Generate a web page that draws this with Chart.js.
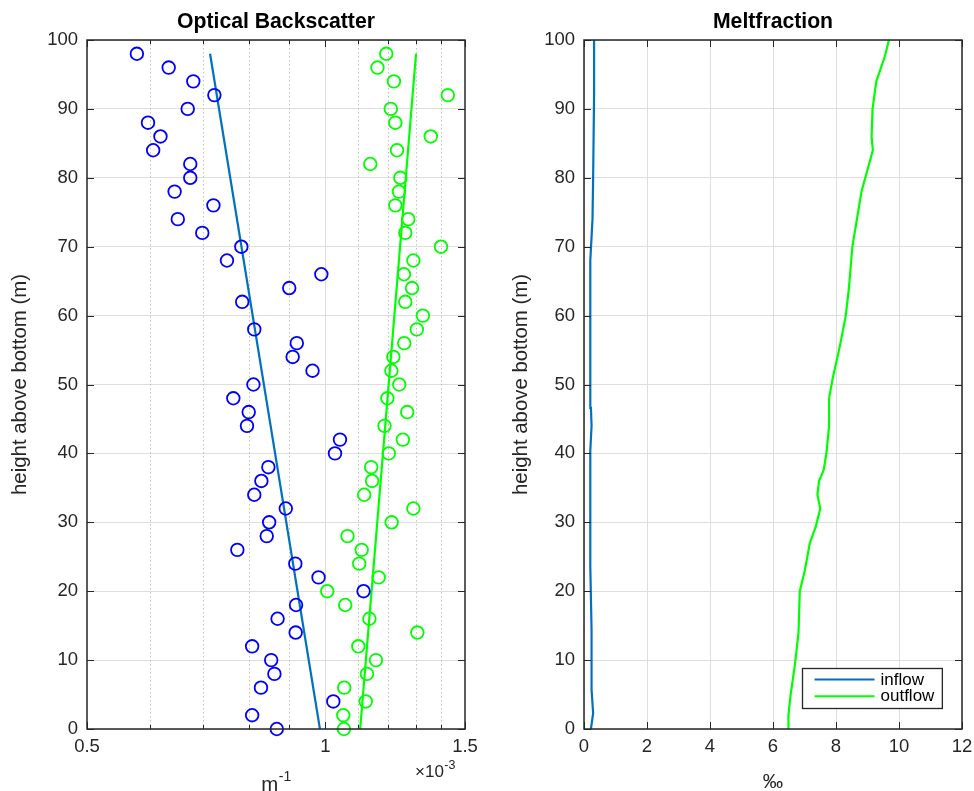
<!DOCTYPE html>
<html>
<head>
<meta charset="utf-8">
<script src="https://cdn.jsdelivr.net/npm/chart.js@4.4.1/dist/chart.umd.min.js"></script>
<style>
  html, body { margin: 0; padding: 0; background: #ffffff; overflow: hidden; }
  #c1 { position: absolute; left: 0; top: 0; }
  #c2 { position: absolute; left: 487px; top: 0; }
</style>
</head>
<body>
<canvas id="c1" width="487" height="800"></canvas>
<canvas id="c2" width="487" height="800"></canvas>
<script>
// ---------------- data ----------------
const sampleHeights = [0,2,4,6,8,10,12,14,16,18,20,22,24,26,28,30,32,34,36,38,40,42,44,46,48,50,52,54,56,58,60,62,64,66,68,70,72,74,76,78,80,82,84,86,88,90,92,94,96,98];
// optical backscatter (x 1e-3 m^-1), inflow side (blue) and outflow side (green)
const backscatterInflow = [0.868,0.808,1.023,0.829,0.862,0.854,0.808,0.917,0.870,0.918,1.117,0.980,0.916,0.774,0.843,0.849,0.891,0.813,0.830,0.847,1.028,1.043,0.796,0.800,0.765,0.811,0.963,0.909,0.920,0.813,null,0.785,0.900,0.988,0.751,0.783,0.699,0.651,0.722,0.645,0.675,0.675,0.606,0.619,0.597,0.670,0.724,0.681,0.634,0.578];
const backscatterOutflow = [1.055,1.053,1.124,1.056,1.128,1.158,1.100,1.306,1.136,1.059,1.005,1.167,1.103,1.111,1.066,1.212,1.291,1.119,1.145,1.142,1.202,1.252,1.187,1.268,1.197,1.239,1.211,1.218,1.257,1.304,1.327,1.261,1.286,1.256,1.291,1.399,1.261,1.272,1.225,1.238,1.243,1.139,1.231,1.358,1.225,1.209,1.427,1.220,1.163,1.193];
// fitted lines
const fitHeights = [0, 98];
const fitInflow = [0.984, 0.715];
const fitOutflow = [1.106, 1.301];
// meltfraction profiles (per mille)
const meltInHeights = [0,2.3,5.7,14.4,23.6,40.4,44,46.6,58,68,74,80,92,100];
const meltInflow = [0.22,0.29,0.24,0.24,0.20,0.20,0.24,0.22,0.20,0.20,0.27,0.29,0.32,0.32];
const meltOutHeights = [0,2,5,9.5,14,20,23,27,29.4,32,34,36,37.6,40.2,44,48,51,55.5,60,64,70,78,84,86,90,94,97.6,100];
const meltOutflow = [6.48,6.49,6.56,6.70,6.81,6.85,7.01,7.17,7.36,7.50,7.41,7.46,7.61,7.70,7.78,7.78,7.90,8.12,8.31,8.41,8.52,8.81,9.17,9.13,9.16,9.28,9.55,9.68];
// ticks
const heightTicks = [0,10,20,30,40,50,60,70,80,90,100];
const bsTicks = [0.5,0.6,0.7,0.8,0.9,1,1.1,1.2,1.3,1.4,1.5];
const bsTickLabels = ['0.5','','','','','1','','','','','1.5'];
const meltTicks = [0,2,4,6,8,10,12];

// ---------------- style ----------------
const FAMILY = '"Liberation Sans", Arial, Helvetica, sans-serif';
Chart.defaults.font.family = FAMILY;
Chart.defaults.color = '#262626';
Chart.defaults.animation = false;

const AXIS = '#262626', GRID = '#dedede', MINOR = '#c2c2c2';
const TICK_FONT = { size: 18.5 };
const LABEL_FONT = { size: 20.4 };
const TITLE_FONT = { size: 21.2, weight: 'bold' };
const CANVAS_H = 800, PLOT_BOTTOM = 729;

const matlabAxes = {
  id: 'matlabAxes',
  beforeDatasetsDraw(chart, args, o) {
    if (!o.minorValues) return;
    const { ctx, chartArea: a } = chart; const xs = chart.scales.x;
    ctx.save();
    ctx.strokeStyle = MINOR; ctx.lineWidth = 1; ctx.setLineDash([1.5, 2.5]);
    o.minorValues.forEach(v => {
      const px = Math.round(xs.getPixelForValue(v)) + 0.5;
      ctx.beginPath(); ctx.moveTo(px, a.top); ctx.lineTo(px, a.bottom); ctx.stroke();
    });
    ctx.restore();
  },
  afterDatasetsDraw(chart, args, o) {
    const { ctx, chartArea: a } = chart; const xs = chart.scales.x, ys = chart.scales.y;
    ctx.save();
    ctx.strokeStyle = AXIS; ctx.lineWidth = 1;
    ctx.beginPath();
    xs.ticks.forEach(t => {
      const px = Math.round(xs.getPixelForValue(t.value)) + 0.5;
      const len = (o.minorValues && o.minorValues.includes(t.value)) ? 4 : 7;
      ctx.moveTo(px, a.bottom); ctx.lineTo(px, a.bottom - len);
      ctx.moveTo(px, a.top); ctx.lineTo(px, a.top + len);
    });
    ys.ticks.forEach(t => {
      const py = Math.round(ys.getPixelForValue(t.value)) + 0.5;
      ctx.moveTo(a.left, py); ctx.lineTo(a.left + 7, py);
      ctx.moveTo(a.right, py); ctx.lineTo(a.right - 7, py);
    });
    ctx.stroke();
    ctx.lineWidth = 1.5;
    ctx.strokeRect(a.left, a.top, a.right - a.left, a.bottom - a.top);
    ctx.restore();
  },
  afterDraw(chart, args, o) {
    const { ctx, chartArea: a } = chart;
    ctx.save();
    ctx.fillStyle = AXIS; ctx.textAlign = 'left'; ctx.textBaseline = 'alphabetic';
    if (o.unitLabel) {
      const f1 = '20.4px ' + FAMILY, f2 = '14px ' + FAMILY;
      ctx.font = f1; const w1 = ctx.measureText(o.unitLabel.base).width;
      ctx.font = f2; const w2 = ctx.measureText(o.unitLabel.sup).width;
      const x = (a.left + a.right) / 2 - (w1 + w2) / 2;
      ctx.font = f1; ctx.fillText(o.unitLabel.base, x, 790.5);
      ctx.font = f2; ctx.fillText(o.unitLabel.sup, x + w1 + 0.5, 780.5);
    }
    if (o.exponent) {
      const f1 = '17px ' + FAMILY, f2 = '12.5px ' + FAMILY;
      const x = a.right - 50;
      ctx.font = f1; const w1 = ctx.measureText(o.exponent.base).width;
      ctx.fillText(o.exponent.base, x, 777);
      ctx.font = f2; ctx.fillText(o.exponent.sup, x + w1 + 0.5, 768.5);
    }
    if (o.legend) {
      const items = chart.data.datasets.map(d => ({ label: d.label, color: d.borderColor }));
      ctx.font = '17px ' + FAMILY;
      const tw = Math.max(...items.map(it => ctx.measureText(it.label).width));
      const padL = 12, lineLen = 60, gap = 6, padR = 8, h = 40;
      const w = padL + lineLen + gap + tw + padR;
      const x0 = Math.round(a.right - 20 - w) + 0.5, y0 = Math.round(a.bottom - 21 - h) + 0.5;
      ctx.fillStyle = '#ffffff'; ctx.fillRect(x0, y0, w, h);
      ctx.strokeStyle = AXIS; ctx.lineWidth = 1.3; ctx.strokeRect(x0, y0, w, h);
      items.forEach((it, i) => {
        const yy = y0 + 11 + i * 16.7;
        ctx.strokeStyle = it.color; ctx.lineWidth = 2;
        ctx.beginPath(); ctx.moveTo(x0 + padL, yy); ctx.lineTo(x0 + padL + lineLen, yy); ctx.stroke();
        ctx.fillStyle = '#000000'; ctx.textBaseline = 'middle';
        ctx.fillText(it.label, x0 + padL + lineLen + gap, yy + 0.5);
      });
    }
    ctx.restore();
  }
};

const pts = (xs, ys) => ys.map((y, i) => ({ x: xs[i], y: y })).filter(p => p.x !== null);
const fitX = s => { s.height = CANVAS_H - PLOT_BOTTOM; s.paddingLeft = 0; s.paddingRight = 0; };

// ---------------- left: optical backscatter ----------------
new Chart(document.getElementById('c1'), {
  type: 'scatter',
  data: {
    datasets: [
      { label: 'inflow samples', data: pts(backscatterInflow, sampleHeights), borderColor: '#0000ff', backgroundColor: 'rgba(0,0,0,0)', pointRadius: 6.3, pointHoverRadius: 6.3, pointBorderWidth: 1.8, clip: false },
      { label: 'outflow samples', data: pts(backscatterOutflow, sampleHeights), borderColor: '#00ff00', backgroundColor: 'rgba(0,0,0,0)', pointRadius: 6.3, pointHoverRadius: 6.3, pointBorderWidth: 1.8, clip: false },
      { type: 'line', label: 'inflow fit', data: pts(fitInflow, fitHeights), borderColor: '#0072bd', borderWidth: 2.2, pointRadius: 0, tension: 0, fill: false },
      { type: 'line', label: 'outflow fit', data: pts(fitOutflow, fitHeights), borderColor: '#00ff00', borderWidth: 2.2, pointRadius: 0, tension: 0, fill: false }
    ]
  },
  options: {
    responsive: false, animation: false, events: [],
    layout: { padding: { left: 0, right: 22, top: 0, bottom: 0 } },
    plugins: {
      legend: { display: false }, tooltip: { enabled: false },
      title: { display: true, text: 'Optical Backscatter', fullSize: false, color: '#000000', font: TITLE_FONT, padding: { top: 9, bottom: 5.56 } },
      matlabAxes: {
        minorValues: bsTicks.filter((v, i) => bsTickLabels[i] === ''),
        unitLabel: { base: 'm', sup: '-1' },
        exponent: { base: '\u00d710', sup: '-3' }
      }
    },
    scales: {
      x: {
        type: 'logarithmic', min: 0.5, max: 1.5,
        afterBuildTicks: s => { s.ticks = bsTicks.map(v => ({ value: v })); },
        ticks: { autoSkip: false, maxRotation: 0, padding: 7, font: TICK_FONT, color: AXIS, callback: (v, i) => bsTickLabels[i] },
        grid: { drawTicks: false, lineWidth: 1, color: c => (c.tick && c.tick.value === 1) ? GRID : 'rgba(0,0,0,0)' },
        border: { display: false },
        afterFit: fitX
      },
      y: {
        type: 'linear', min: 0, max: 100,
        afterBuildTicks: s => { s.ticks = heightTicks.map(v => ({ value: v })); },
        ticks: { padding: 9, font: TICK_FONT, color: AXIS },
        grid: { drawTicks: false, color: GRID, lineWidth: 1 },
        border: { display: false },
        title: { display: true, text: 'height above bottom (m)', font: LABEL_FONT, color: AXIS, padding: { top: 7.8, bottom: 0 } },
        afterFit: s => { s.width = 87; }
      }
    }
  },
  plugins: [matlabAxes]
});

// ---------------- right: meltfraction ----------------
new Chart(document.getElementById('c2'), {
  type: 'line',
  data: {
    datasets: [
      { label: 'inflow', data: pts(meltInflow, meltInHeights), borderColor: '#0072bd', borderWidth: 2.2, pointRadius: 0, tension: 0, fill: false },
      { label: 'outflow', data: pts(meltOutflow, meltOutHeights), borderColor: '#00ff00', borderWidth: 2.2, pointRadius: 0, tension: 0, fill: false }
    ]
  },
  options: {
    responsive: false, animation: false, events: [],
    layout: { padding: { left: 0, right: 12, top: 0, bottom: 0 } },
    plugins: {
      legend: { display: false }, tooltip: { enabled: false },
      title: { display: true, text: 'Meltfraction', fullSize: false, color: '#000000', font: TITLE_FONT, padding: { top: 9, bottom: 5.56 } },
      matlabAxes: { legend: true }
    },
    scales: {
      x: {
        type: 'linear', min: 0, max: 12,
        afterBuildTicks: s => { s.ticks = meltTicks.map(v => ({ value: v })); },
        ticks: { autoSkip: false, maxRotation: 0, padding: 7, font: TICK_FONT, color: AXIS },
        grid: { drawTicks: false, color: GRID, lineWidth: 1 },
        border: { display: false },
        title: { display: true, text: '\u2030', font: LABEL_FONT, color: AXIS, padding: { top: 0, bottom: 5.3 } },
        afterFit: fitX
      },
      y: {
        type: 'linear', min: 0, max: 100,
        afterBuildTicks: s => { s.ticks = heightTicks.map(v => ({ value: v })); },
        ticks: { padding: 9, font: TICK_FONT, color: AXIS },
        grid: { drawTicks: false, color: GRID, lineWidth: 1 },
        border: { display: false },
        title: { display: true, text: 'height above bottom (m)', font: LABEL_FONT, color: AXIS, padding: { top: 21.8, bottom: 0 } },
        afterFit: s => { s.width = 97; }
      }
    }
  },
  plugins: [matlabAxes]
});
</script>
</body>
</html>
